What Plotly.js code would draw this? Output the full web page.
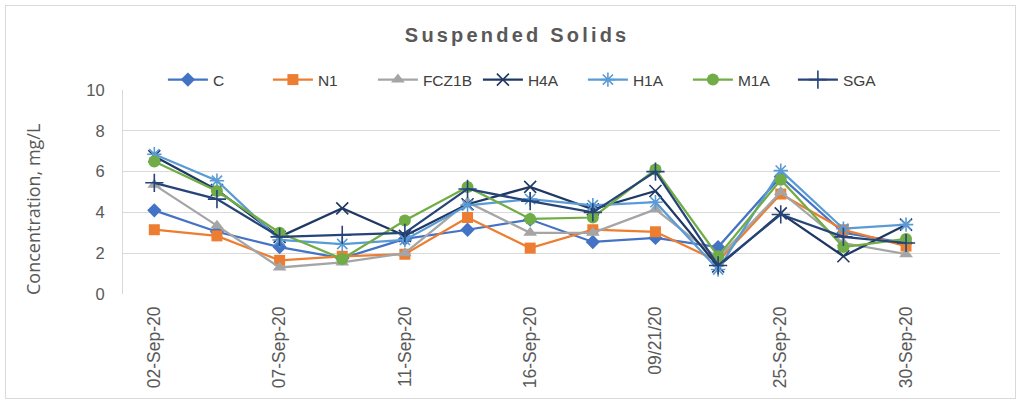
<!DOCTYPE html>
<html>
<head>
<meta charset="utf-8">
<script src="https://cdn.plot.ly/plotly-3.0.1.min.js"></script>
<style>
  html, body { margin: 0; padding: 0; background: #fff; }
  #wrap { position: relative; width: 1020px; height: 403px; }
  #chart { width: 1020px; height: 403px; }
  #frame { position: absolute; left: 5px; top: 5px; width: 1009px; height: 392px; border: 1px solid #d9d9d9; pointer-events: none; }
  .gtitle { letter-spacing: 3.2px; }
</style>
</head>
<body>
<div id="wrap"><div id="chart"></div><div id="frame"></div></div>
<script>
const dates = ["02-Sep-20","04-Sep-20","07-Sep-20","09-Sep-20","11-Sep-20","14-Sep-20","16-Sep-20","18-Sep-20","09/21/20","23-Sep-20","25-Sep-20","28-Sep-20","30-Sep-20"];
const tickDates = ["02-Sep-20","07-Sep-20","11-Sep-20","16-Sep-20","09/21/20","25-Sep-20","30-Sep-20"];
const yTitle = "Concentration, mg/L";

const C     = [4.1, 3.05, 2.3, 1.75, 2.7, 3.15, 3.65, 2.55, 2.75, 2.3, 5.75, 3.0, 2.5];
const N1    = [3.15, 2.85, 1.65, 1.85, 1.95, 3.75, 2.25, 3.15, 3.05, 1.6, 4.9, 3.15, 2.35];
const FCZ1B = [5.35, 3.35, 1.3, 1.55, 2.0, 4.5, 3.0, 3.0, 4.15, 1.75, 5.0, 2.5, 1.95];
const H4A   = [6.75, 5.1, 2.8, 4.2, 2.85, 4.4, 5.25, 4.15, 5.05, 1.35, 3.95, 1.85, 3.4];
const H1A   = [6.85, 5.55, 2.65, 2.45, 2.65, 4.35, 4.65, 4.35, 4.5, 1.2, 6.05, 3.2, 3.4];
const M1A   = [6.5, 5.05, 3.0, 1.72, 3.6, 5.25, 3.68, 3.75, 6.1, 1.85, 5.6, 2.3, 2.7];
const SGA   = [5.45, 4.65, 2.8, 2.9, 3.0, 5.15, 4.55, 4.0, 6.0, 1.4, 3.9, 2.8, 2.5];

function tr(name, y, color, symbol, size, open) {
  const m = { symbol: symbol, size: size, color: color };
  if (open) m.line = { color: color, width: 1.6 };
  return { type: 'scatter', mode: 'lines+markers', name: name, x: dates, y: y,
           line: { color: color, width: 2.25 }, marker: m };
}

const data = [
  tr('C', C, '#4472C4', 'diamond', 11, false),
  tr('N1', N1, '#ED7D31', 'square', 11, false),
  tr('FCZ1B', FCZ1B, '#A5A5A5', 'triangle-up', 12, false),
  tr('H4A', H4A, '#203864', 'x-thin-open', 12, true),
  tr('H1A', H1A, '#5B9BD5', 'asterisk-open', 12, true),
  tr('M1A', M1A, '#70AD47', 'circle', 12, false),
  tr('SGA', SGA, '#264478', 'cross-thin-open', 13, true)
];

const layout = {
  width: 1020, height: 403,
  margin: { l: 123, r: 20, t: 90, b: 109, autoexpand: false },
  paper_bgcolor: '#ffffff', plot_bgcolor: '#ffffff',
  font: { family: 'Liberation Sans, Arial, sans-serif', color: '#595959' },
  title: { text: '<b>Suspended Solids</b>', font: { size: 20, color: '#595959', family: 'Liberation Sans, Arial, sans-serif' },
           x: 0.507, xanchor: 'center', y: 1 - 35/403, yanchor: 'middle', yref: 'container' },
  showlegend: true,
  legend: { orientation: 'h', xref: 'container', yref: 'container', x: 0.52, xanchor: 'center', y: 1 - 80/403, yanchor: 'middle',
            font: { size: 15.5, color: '#404040' }, bgcolor: 'rgba(0,0,0,0)', itemwidth: 40,
            entrywidth: 50, entrywidthmode: 'pixels' },
  xaxis: {
    type: 'category', categoryorder: 'array', categoryarray: dates,
    range: [-0.5, 13.5], tickmode: 'array', tickvals: tickDates, ticktext: tickDates,
    tickangle: -90, tickfont: { size: 17.5, color: '#595959' }, ticklabelstandoff: 8,
    showgrid: false, showline: false, zeroline: false, ticks: ''
  },
  yaxis: {
    range: [0, 10], dtick: 2, tick0: 0, showgrid: true, gridcolor: '#d9d9d9', gridwidth: 1,
    showline: true, linecolor: '#d9d9d9', linewidth: 1, zeroline: false, ticks: '',
    tickfont: { size: 16.5, color: '#595959' }, ticklabelstandoff: 14
  },
  annotations: [{
    text: yTitle, textangle: -90, xref: 'paper', yref: 'paper',
    x: (33 - 123) / 877, y: (294 - 210) / 204, xanchor: 'center', yanchor: 'middle',
    showarrow: false, font: { family: 'Open Sans, sans-serif', size: 18, color: '#595959' }
  }]
};

Plotly.newPlot('chart', data, layout, { displayModeBar: false, staticPlot: true });
</script>
</body>
</html>
